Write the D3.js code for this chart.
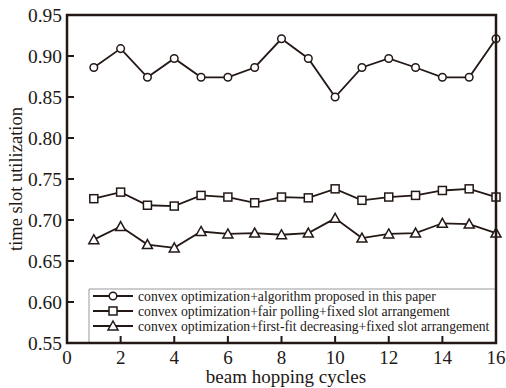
<!DOCTYPE html>
<html><head><meta charset="utf-8">
<script src="https://cdn.jsdelivr.net/npm/d3@7"></script>
<style>body{margin:0;background:#fff}svg{display:block}text{font-family:"Liberation Serif","Times New Roman",serif;fill:#231815}</style>
</head><body><svg id="c" width="506" height="388"></svg>
<script>
const cycles = [1,2,3,4,5,6,7,8,9,10,11,12,13,14,15,16];
const proposed = [0.886,0.909,0.874,0.897,0.874,0.874,0.886,0.921,0.897,0.850,0.886,0.897,0.886,0.874,0.874,0.921];
const fairPolling = [0.726,0.734,0.718,0.717,0.730,0.728,0.721,0.728,0.727,0.738,0.724,0.728,0.730,0.736,0.738,0.728];
const firstFit = [0.676,0.692,0.670,0.666,0.686,0.683,0.684,0.682,0.684,0.702,0.678,0.683,0.684,0.696,0.695,0.684];
const seriesNames = ["convex optimization+algorithm proposed in this paper","convex optimization+fair polling+fixed slot  arrangement","convex optimization+first-fit decreasing+fixed slot arrangement"];
const markers = ["circle","square","triangle"];
const yTicks = [0.55,0.60,0.65,0.70,0.75,0.80,0.85,0.90,0.95];
const xTicks = [0,2,4,6,8,10,12,14,16];

const svg = d3.select("#c");
const L=67,R=496,T=15,B=343;
const x = d3.scaleLinear().domain([0,16]).range([L,R]);
const y = d3.scaleLinear().domain([0.55,0.95]).range([B,T]);
const ink="#231815";

// ticks (inward)
svg.append("g").selectAll("line").data(yTicks.slice(1,-1)).join("line")
  .attr("x1",L).attr("x2",L+7).attr("y1",d=>y(d)).attr("y2",d=>y(d)).attr("stroke",ink).attr("stroke-width",2);
svg.append("g").selectAll("line").data(xTicks.slice(1,-1)).join("line")
  .attr("x1",d=>x(d)).attr("x2",d=>x(d)).attr("y1",B).attr("y2",B-7).attr("stroke",ink).attr("stroke-width",2);
svg.append("g").selectAll("text").data(yTicks).join("text")
  .attr("x",L-5).attr("y",d=>y(d)+7).attr("text-anchor","end").attr("font-size",19).attr("textLength",34).attr("lengthAdjust","spacingAndGlyphs").text(d=>d.toFixed(2));
svg.append("g").selectAll("text").data(xTicks).join("text")
  .attr("x",d=>x(d)).attr("y",B+21).attr("text-anchor","middle").attr("font-size",19).text(d=>d);

svg.append("text").attr("transform",`translate(22,${(T+B)/2}) rotate(-90)`).attr("text-anchor","middle").attr("font-size",18.5).text("time slot utilization");
svg.append("text").attr("x",286).attr("y",383).attr("text-anchor","middle").attr("font-size",19).text("beam hopping cycles");

// data
const data=[proposed,fairPolling,firstFit];
const line=d3.line().x((d,i)=>x(cycles[i])).y(d=>y(d));
function drawMarker(g,type,cx,cy){
  if(type==="circle") g.append("circle").attr("cx",cx).attr("cy",cy).attr("r",3.8).attr("fill","#fff").attr("stroke",ink).attr("stroke-width",1.5);
  else if(type==="square") g.append("rect").attr("x",cx-4).attr("y",cy-4).attr("width",8).attr("height",8).attr("fill","#fff").attr("stroke",ink).attr("stroke-width",1.5);
  else g.append("path").attr("d",`M${cx},${cy-5}L${cx+5},${cy+4}L${cx-5},${cy+4}Z`).attr("fill","#fff").attr("stroke",ink).attr("stroke-width",1.5);
}
data.forEach((s,k)=>{
  svg.append("path").attr("d",line(s)).attr("fill","none").attr("stroke",ink).attr("stroke-width",1.8);
  const g=svg.append("g");
  s.forEach((v,i)=>drawMarker(g,markers[k],x(cycles[i]),y(v)));
});

// legend
svg.append("path").attr("d",`M89,${B}V289H${R}`).attr("fill","none").attr("stroke","#999").attr("stroke-width",1);
seriesNames.forEach((n,k)=>{
  const ly=296+k*15;
  svg.append("line").attr("x1",93).attr("x2",133).attr("y1",ly).attr("y2",ly).attr("stroke",ink).attr("stroke-width",1.8);
  drawMarker(svg.append("g"),markers[k],113,ly);
  svg.append("text").attr("x",138).attr("y",ly+4.5).attr("font-size",13.7).text(n);
});

// frame
svg.append("rect").attr("x",L).attr("y",T).attr("width",R-L).attr("height",B-T).attr("fill","none").attr("stroke",ink).attr("stroke-width",2.5);
</script></body></html>
